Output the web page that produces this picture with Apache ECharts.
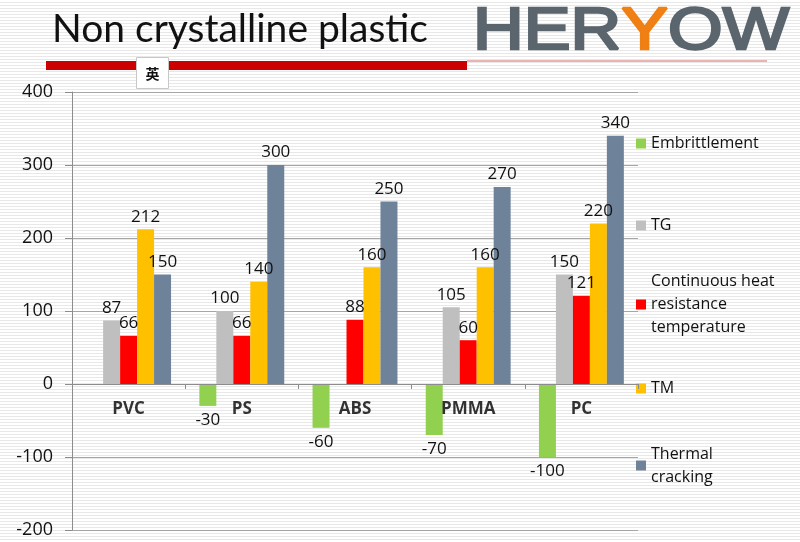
<!DOCTYPE html>
<html>
<head>
<meta charset="utf-8">
<script src="https://cdn.jsdelivr.net/npm/echarts@6/dist/echarts.min.js"></script>
<style>
  html, body { margin: 0; padding: 0; }
  body {
    background: repeating-linear-gradient(to bottom, #ffffff 0px, #ffffff 2px, #e8e8e8 2px, #e8e8e8 3px);
  }
  #chart { width: 800px; height: 542px; }
</style>
</head>
<body>
<div id="chart"></div>
<script>
const categories = ['PVC', 'PS', 'ABS', 'PMMA', 'PC']
const embrittlement = [null, -30, -60, -70, -100]
const tg = [87, 100, null, 105, 150]
const heatResist = [66, 66, 88, 60, 121]
const tm = [212, 140, 160, 160, 220]
const thermalCracking = [150, 300, 250, 270, 340]
const yTicks = { min: -200, max: 400, interval: 100 }

const font = 'Open Sans'
const labelStyle = { show: true, fontFamily: font, fontSize: 17, color: '#111' }

function bar(name, data, color) {
  return {
    name: name,
    type: 'bar',
    data: data,
    barGap: '0%',
    barCategoryGap: '25%',
    itemStyle: { color: color },
    label: Object.assign({}, labelStyle, { position: 'top', distance: 4 }),
  }
}

const series = [
  bar('Embrittlement', embrittlement.map(v => (v == null ? '-' : { value: v, label: { position: 'bottom', distance: 6 } })), '#92D050'),
  bar('TG', tg.map(v => (v == null ? '-' : v)), '#BFBFBF'),
  bar('Continuous heat resistance temperature', heatResist, '#FF0000'),
  bar('TM', tm, '#FFC000'),
  bar('Thermal cracking', thermalCracking, '#6E8299'),
  {
    // category names sit just under the zero line
    name: 'categoryLabels',
    type: 'scatter',
    symbolSize: 0,
    silent: true,
    z: 6,
    data: categories.map(c => [c, 0]),
    label: {
      show: true,
      position: 'bottom',
      distance: 17,
      formatter: p => p.value[0],
      fontFamily: font,
      fontSize: 17,
      fontWeight: 'bold',
      color: '#000',
    },
  },
]

function legendFor(name, top, text, lines) {
  return {
    data: [name],
    orient: 'vertical',
    left: 636,
    top: top,
    padding: 0,
    icon: 'rect',
    itemWidth: 10,
    itemHeight: 10,
    itemGap: 0,
    selectedMode: false,
    formatter: () => text,
    textStyle: {
      fontFamily: font,
      fontSize: 16,
      color: '#111',
      lineHeight: 23,
      padding: [(lines - 1) * 23, 0, 0, 0],
    },
  }
}

const chart = echarts.init(document.getElementById('chart'))
chart.setOption({
  animation: false,
  backgroundColor: 'transparent',
  grid: { left: 72, right: 162, top: 92, bottom: 12, containLabel: false, outerBoundsMode: 'none' },
  legend: [
    legendFor('Embrittlement', 132, 'Embrittlement', 1),
    legendFor('TG', 214, 'TG', 1),
    legendFor('Continuous heat resistance temperature', 247, 'Continuous heat\nresistance\ntemperature', 3),
    legendFor('TM', 377, 'TM', 1),
    legendFor('Thermal cracking', 431, 'Thermal\ncracking', 2),
  ],
  xAxis: {
    type: 'category',
    data: categories,
    axisLine: { onZero: true, lineStyle: { color: '#8c8c8c' } },
    axisTick: { show: true, length: 5, lineStyle: { color: '#8c8c8c' } },
    axisLabel: { show: false },
    z: 5,
  },
  yAxis: {
    type: 'value',
    min: yTicks.min,
    max: yTicks.max,
    interval: yTicks.interval,
    axisLine: { show: true, lineStyle: { color: '#8c8c8c' } },
    axisTick: { show: true, length: 7, lineStyle: { color: '#8c8c8c' } },
    axisLabel: { margin: 19, fontFamily: font, fontSize: 18, color: '#111' },
    splitLine: { lineStyle: { color: '#a6a6a6' } },
  },
  graphic: [
    {
      type: 'text', left: 52, top: 10,
      style: { text: 'Non crystalline plastic', font: '39px Lato', fill: '#111' },
    },
    { type: 'rect', shape: { x: 46, y: 61, width: 421, height: 9 }, style: { fill: '#CC0000' } },
    { type: 'rect', shape: { x: 467, y: 60.5, width: 300, height: 1 }, style: { fill: '#D86A6A' } },
    {
      type: 'rect', z: 10,
      shape: { x: 136.5, y: 57.5, width: 32, height: 31 },
      style: { fill: '#fff', stroke: '#c8c8c8', lineWidth: 1 },
    },
    {
      type: 'text', z: 11, x: 152.5, y: 74,
      style: { text: '英', font: 'bold 14px "Noto Sans CJK SC"', fill: '#111', align: 'center', verticalAlign: 'middle' },
    },
    {
      type: 'text', x: 473, y: 2, scaleX: 1.17,
      style: {
        text: '{g|HER}{y|Y}{g|OW}',
        rich: {
          g: { font: '60px "Liberation Sans"', fill: '#5B656D', stroke: '#5B656D', lineWidth: 2.5 },
          y: { font: '60px "Liberation Sans"', fill: '#F07F14', stroke: '#F07F14', lineWidth: 2.5 },
        },
      },
    },
  ],
  series: series,
})
</script>
</body>
</html>
